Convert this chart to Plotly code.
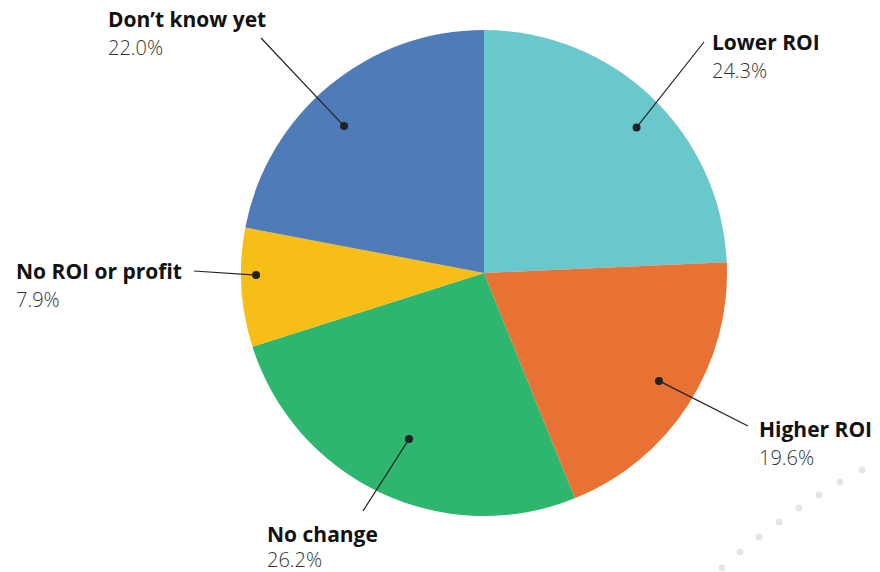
import math
import plotly.graph_objects as go

labels = ["Lower ROI", "Higher ROI", "No change", "No ROI or profit", "Don’t know yet"]
values = [24.3, 19.6, 26.2, 7.9, 22.0]
colors = ["#68C8CB", "#E87233", "#2EB66E", "#F6BE17", "#4F7CB8"]

W, H = 880, 572
CX, CY, R = 484, 273, 243
# style: dot radius fraction, angle tweak (deg) and label anchor per slice
dot_frac = [0.868, 0.846, 0.75, 0.938, 0.835]
ang_tweak = [2.6, -1.1, -0.9, 2.9, -4.0]
line_end = [(704, 42), (748, 426), (363, 511), (194, 271), (261, 38)]
text_pos = [(710, 42, 70), (757, 429, 457), (265, 534, 559), (14, 271, 299), (106, 19, 47)]

fig = go.Figure()
fig.add_trace(go.Pie(
    labels=labels, values=values, sort=False, direction="clockwise", rotation=0,
    marker=dict(colors=colors, line=dict(width=0)), textinfo="none", hoverinfo="label+percent",
    showlegend=False,
    domain=dict(x=[(CX - R) / W, (CX + R) / W], y=[1 - (CY + R) / H, 1 - (CY - R) / H]),
))

shapes = []
annotations = []
total = sum(values)
cum = 0
for i, v in enumerate(values):
    mid = (cum + v / 2) / total * 2 * math.pi + math.radians(ang_tweak[i])
    cum += v
    dx = CX + dot_frac[i] * R * math.sin(mid)
    dy = CY - dot_frac[i] * R * math.cos(mid)
    ex, ey = line_end[i]
    shapes.append(dict(type="line", xref="x", yref="y", x0=dx, y0=dy, x1=ex, y1=ey,
                       line=dict(color="#222", width=1.2)))
    shapes.append(dict(type="circle", xref="x", yref="y", x0=dx - 4, x1=dx + 4, y0=dy - 4, y1=dy + 4,
                       fillcolor="#222", line=dict(width=0)))
    tx, ty1, ty2 = text_pos[i]
    annotations.append(dict(x=tx, y=ty1, xref="x", yref="y", xanchor="left", yanchor="middle",
                            text=labels[i], showarrow=False,
                            font=dict(family="Open Sans", size=21, color="#111", weight=700)))
    annotations.append(dict(x=tx, y=ty2, xref="x", yref="y", xanchor="left", yanchor="middle",
                            text=f"{v:.1f}%", showarrow=False,
                            font=dict(family="Open Sans", size=20, color="#333", weight=300)))

# decorative dots
deco = [(862, 470), (840, 482), (819, 495), (799, 508), (779, 522), (759, 537), (740, 552), (722, 568)]
for x, y in deco:
    shapes.append(dict(type="circle", xref="x", yref="y", x0=x - 3.5, x1=x + 3.5, y0=y - 3.5, y1=y + 3.5,
                       fillcolor="#E1E6ED", line=dict(width=0)))

fig.update_layout(
    width=W, height=H, margin=dict(l=0, r=0, t=0, b=0),
    paper_bgcolor="white", plot_bgcolor="rgba(0,0,0,0)",
    xaxis=dict(range=[0, W], visible=False, fixedrange=True),
    yaxis=dict(range=[H, 0], visible=False, fixedrange=True),
    shapes=shapes, annotations=annotations,
)
fig.write_html("out.html")
